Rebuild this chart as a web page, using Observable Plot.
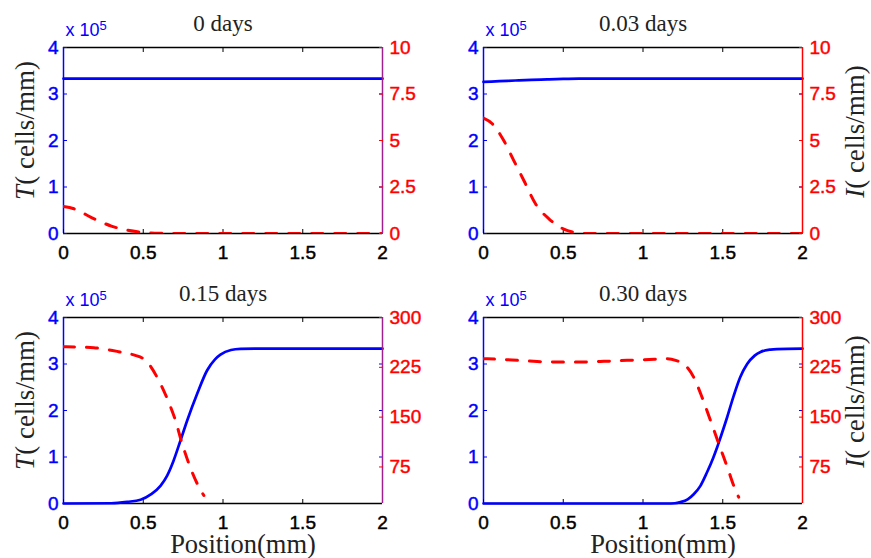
<!DOCTYPE html>
<html>
<head>
<meta charset="utf-8">
<script src="https://cdn.jsdelivr.net/npm/d3@7"></script>
<script src="https://cdn.jsdelivr.net/npm/@observablehq/plot@0.6"></script>
<style>
  body { margin: 0; background: #fff; }
  #fig { position: relative; width: 871px; height: 558px; background: #fff; overflow: hidden; }
  #fig svg { position: absolute; overflow: visible; }
</style>
</head>
<body>
<div id="fig"></div>
<script>
// ---------- data ----------
const titles = ["0 days", "0.03 days", "0.15 days", "0.30 days"];
const xTicks = [0, 0.5, 1, 1.5, 2];
const tTicks = [0, 1, 2, 3, 4];
const iTicksTop = [0, 2.5, 5, 7.5, 10];
const iTicksBottom = [75, 150, 225, 300];

// panel 1: 0 days
const p1PosT = [0, 2];
const p1T = [3.33, 3.33];
const p1PosI = [0, 0.065, 0.1, 0.17, 0.2, 0.3, 0.4, 0.5, 0.6, 0.7, 2];
const p1I = [1.45, 1.33, 1.2, 0.88, 0.76, 0.4, 0.18, 0.06, 0.01, 0, 0];

// panel 2: 0.03 days
const p2PosT = [0, 0.1, 0.2, 0.3, 0.4, 0.5, 0.6, 2];
const p2T = [3.26, 3.275, 3.29, 3.305, 3.315, 3.325, 3.33, 3.33];
const p2PosI = [0, 0.055, 0.127, 0.19, 0.253, 0.326, 0.41, 0.5, 0.566, 0.65, 2];
const p2I = [6.2, 5.9, 5.0, 3.92, 2.85, 1.6, 0.79, 0.25, 0.07, 0, 0];

// panel 3: 0.15 days
const p3PosT = [0, 0.3, 0.4, 0.483, 0.55, 0.608, 0.65, 0.69, 0.733, 0.775, 0.838, 0.9, 0.95, 0.984, 1.05, 1.11, 1.2, 2];
const p3T = [0, 0.005, 0.035, 0.08, 0.2, 0.38, 0.6, 0.92, 1.35, 1.78, 2.36, 2.86, 3.1, 3.2, 3.3, 3.325, 3.33, 3.33];
const p3PosI = [0, 0.19, 0.336, 0.4, 0.45, 0.5, 0.535, 0.587, 0.65, 0.702, 0.744, 0.786, 0.838, 0.88];
const p3I = [256, 254.5, 249, 246, 243, 238, 230, 210, 178, 145, 110, 80, 50, 32];

// panel 4: 0.30 days
const p4PosT = [0, 1.15, 1.2, 1.235, 1.28, 1.318, 1.36, 1.4, 1.44, 1.465, 1.486, 1.528, 1.569, 1.61, 1.653, 1.7, 1.737, 1.8, 1.84, 2];
const p4T = [0, 0, 0.005, 0.03, 0.09, 0.2, 0.38, 0.66, 0.98, 1.21, 1.42, 1.86, 2.32, 2.72, 3.0, 3.18, 3.26, 3.31, 3.32, 3.33];
const p4PosI = [0, 0.148, 0.315, 0.46, 0.61, 0.755, 0.9, 1.07, 1.15, 1.21, 1.256, 1.318, 1.37, 1.423, 1.475, 1.528, 1.58, 1.6];
const p4I = [238, 236.5, 234, 233, 233, 234, 235.5, 237, 238, 235, 230, 210, 180, 145, 110, 75, 40, 29.5];

// ---------- drawing ----------
const fig = document.getElementById("fig");
const sans = "'Liberation Sans', Arial, Helvetica, sans-serif";
const serif = "'Liberation Serif', 'Times New Roman', serif";
const BLUE = "#0000ff", RED = "#ff0000";

function finish(svg) {
  d3.select(svg).selectAll("text").each(function () {
    const t = this.textContent;
    if (t === "T( cells/mm)" || t === "I( cells/mm)") {
      this.textContent = "";
      d3.select(this).append("tspan").attr("font-style", "italic").text(t[0]);
      d3.select(this).append("tspan").text(t.slice(1));
    }
  });
  // slightly heavier tick labels, like the reference rendering
  d3.select(svg).selectAll('g[aria-label$="tick label"]').each(function () {
    const f = this.getAttribute("fill") || "black";
    this.setAttribute("stroke", f);
    this.setAttribute("stroke-width", "0.45");
  });
}

function panel(cfg) {
  const {left, top, width, height, mT, mB, mL, mR, title, posT, valT, posI, valI,
         iDomain, iTicks, leftLabel, rightLabel, xLabel, rightLine} = cfg;
  const tData = posT.map((x, i) => ({x, v: valT[i]}));
  const iData = posI.map((x, i) => ({x, v: valI[i]}));
  const common = {
    width, height, marginTop: mT, marginBottom: mB, marginLeft: mL, marginRight: mR,
    style: `font-family:${sans};font-size:19px;background:transparent;overflow:visible;`
  };

  const marks1 = [
    Plot.ruleY([0, 4], {stroke: "black", strokeWidth: 1.5}),
    Plot.ruleX([0], {stroke: BLUE, strokeWidth: 1.5}),
    Plot.axisX({ticks: xTicks, tickSize: -4, tickPadding: 16, color: "black", fontSize: 19,
                tickFormat: d => String(d), label: null}),
    Plot.axisX({anchor: "top", ticks: [0.5, 1, 1.5], tickSize: -4, color: "black",
                tickFormat: () => "", label: null}),
    Plot.axisY({ticks: tTicks, tickSize: -4, tickPadding: 9, color: BLUE, fontSize: 19,
                tickFormat: d => String(d), label: null}),
    Plot.axisY({anchor: "right", ticks: [1, 2, 3], tickSize: -4, color: BLUE,
                tickFormat: () => "", label: null}),
    Plot.line(tData, {x: "x", y: "v", stroke: BLUE, strokeWidth: 2.7, curve: "monotone-x"}),
    Plot.text([title], {frameAnchor: "top", dy: -17, lineAnchor: "bottom", textAnchor: "middle",
                        fontFamily: serif, fontSize: 23, fill: "#222"}),
    Plot.text(["x 10"], {frameAnchor: "top-left", dx: 2, dy: -12, lineAnchor: "bottom",
                         textAnchor: "start", fill: BLUE, fontSize: 18, fontFamily: sans}),
    Plot.text(["5"], {frameAnchor: "top-left", dx: 36, dy: -18, lineAnchor: "bottom",
                      textAnchor: "start", fill: BLUE, fontSize: 13, fontFamily: sans})
  ];
  if (leftLabel) marks1.push(Plot.text([leftLabel], {frameAnchor: "left", dx: -30, dy: -10, rotate: -90,
    textAnchor: "middle", lineAnchor: "bottom", fontFamily: serif, fontSize: 27, fill: "#222"}));
  if (xLabel) marks1.push(Plot.text([xLabel], {frameAnchor: "bottom", dx: 20, dy: 49, textAnchor: "middle",
    lineAnchor: "bottom", fontFamily: serif, fontSize: 26.5, fill: "#222"}));

  const svgT = Plot.plot({...common, x: {domain: [0, 2]}, y: {domain: [0, 4]}, marks: marks1});

  const marks2 = [
    Plot.ruleX([2], {stroke: rightLine, strokeWidth: 1.5}),
    Plot.axisY({anchor: "right", ticks: iTicks, tickSize: -4, tickPadding: 11, color: RED, fontSize: 19,
                tickFormat: d => String(d), label: null}),
    Plot.line(iData, {x: "x", y: "v", stroke: RED, strokeWidth: 3, strokeDasharray: "11,12",
                      curve: "monotone-x", clip: true})
  ];
  if (rightLabel) marks2.push(Plot.text([rightLabel], {frameAnchor: "right", dx: 61, dy: -9, rotate: -90,
    textAnchor: "middle", lineAnchor: "bottom", fontFamily: serif, fontSize: 27, fill: "#222"}));

  const svgI = Plot.plot({...common, x: {domain: [0, 2], axis: null}, y: {domain: iDomain}, marks: marks2});

  for (const s of [svgT, svgI]) {
    s.style.position = "absolute";
    s.style.left = left + "px";
    s.style.top = top + "px";
    s.style.maxWidth = "none";
    finish(s);
    fig.appendChild(s);
  }
}

const PURPLE = "#a0208c";
panel({left: 0, top: 0, width: 420, height: 279, mT: 47, mB: 46, mL: 63, mR: 38,
       title: titles[0], posT: p1PosT, valT: p1T, posI: p1PosI, valI: p1I,
       iDomain: [0, 10], iTicks: iTicksTop, leftLabel: "T( cells/mm)", rightLine: PURPLE});
panel({left: 420, top: 0, width: 451, height: 279, mT: 47, mB: 46, mL: 63, mR: 69,
       title: titles[1], posT: p2PosT, valT: p2T, posI: p2PosI, valI: p2I,
       iDomain: [0, 10], iTicks: iTicksTop, rightLabel: "I( cells/mm)", rightLine: RED});
panel({left: 0, top: 279, width: 420, height: 279, mT: 38, mB: 55, mL: 63, mR: 38,
       title: titles[2], posT: p3PosT, valT: p3T, posI: p3PosI, valI: p3I,
       iDomain: [20, 300], iTicks: iTicksBottom, leftLabel: "T( cells/mm)", xLabel: "Position(mm)", rightLine: PURPLE});
panel({left: 420, top: 279, width: 451, height: 279, mT: 38, mB: 55, mL: 63, mR: 69,
       title: titles[3], posT: p4PosT, valT: p4T, posI: p4PosI, valI: p4I,
       iDomain: [20, 300], iTicks: iTicksBottom, rightLabel: "I( cells/mm)", xLabel: "Position(mm)", rightLine: RED});
</script>
</body>
</html>
